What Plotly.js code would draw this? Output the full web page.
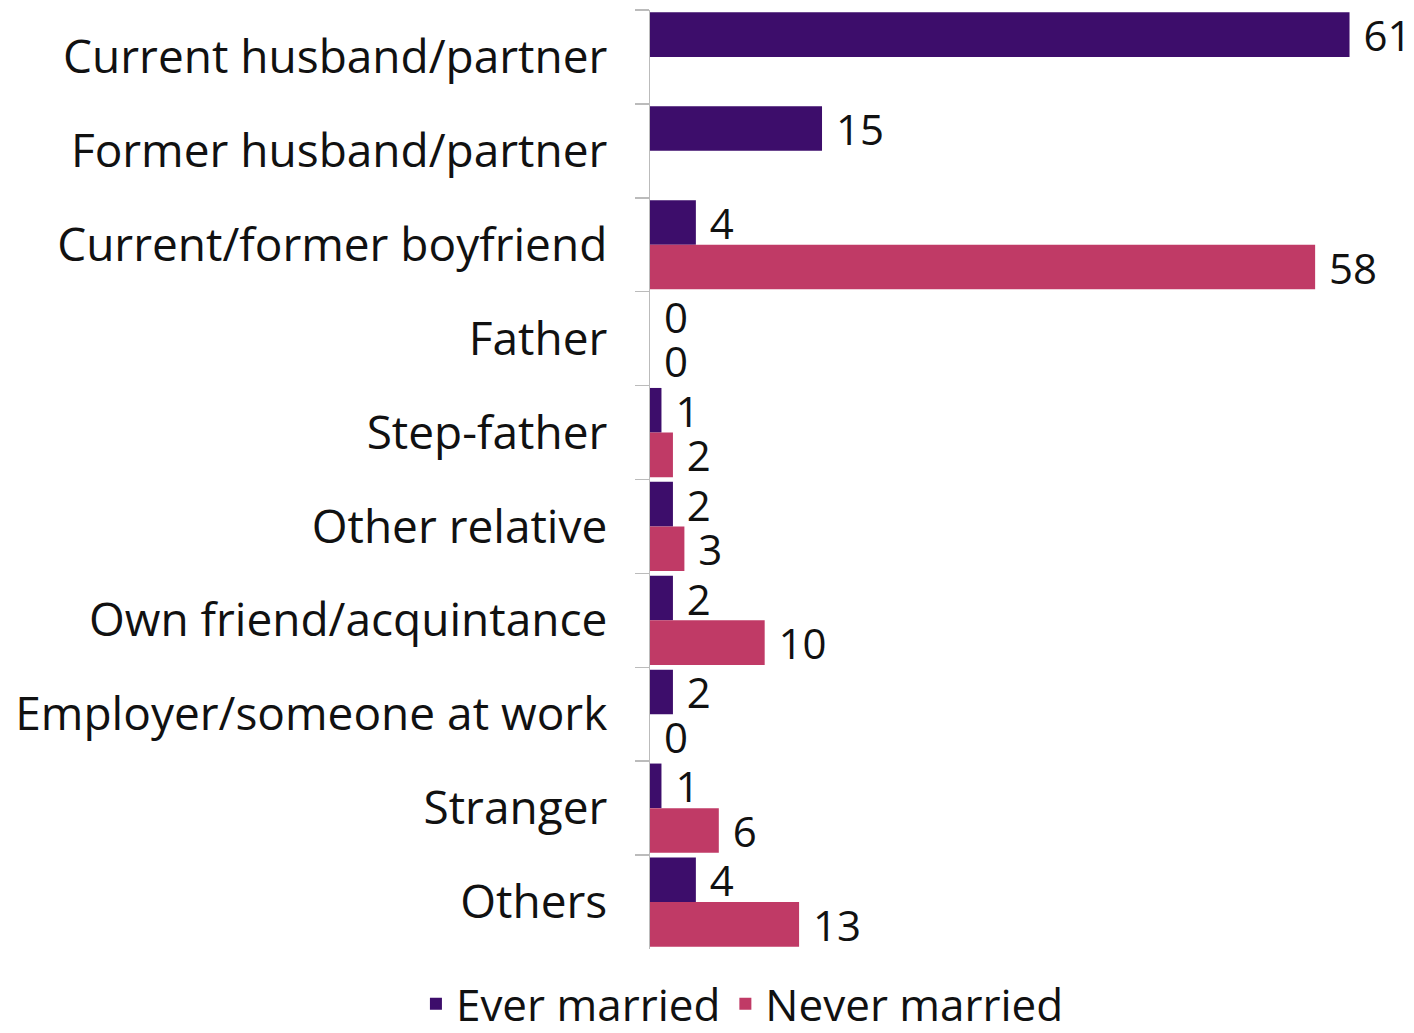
<!DOCTYPE html>
<html><head><meta charset="utf-8">
<script src="https://cdn.plot.ly/plotly-3.0.1.min.js"></script>
<style>html,body{margin:0;padding:0;background:#fff}#chart{width:1414px;height:1033px}</style>
</head><body><div id="chart"></div>
<script>
const categories = ["Current husband/partner","Former husband/partner","Current/former boyfriend","Father","Step-father","Other relative","Own friend/acquintance","Employer/someone at work","Stranger","Others"];
const everMarried = [61,15,4,0,1,2,2,2,1,4];
const neverMarried = [null,null,58,0,2,3,10,0,6,13];
const seriesNames = ["Ever married","Never married"];

const FONT = "Open Sans, DejaVu Sans, sans-serif";
const FS = 46;
const VS = 42;
const lbl = v => v === null ? "" : "\u00a0" + String(v);
const traces = [
  {type:"bar", orientation:"h", name:seriesNames[0], y:categories, x:everMarried,
   marker:{color:"#3d0d6b"}, text:everMarried.map(lbl), constraintext:"none",
   textposition:"outside", cliponaxis:false, textfont:{size:VS,color:"#111",family:FONT}},
  {type:"bar", orientation:"h", name:seriesNames[1], y:categories, x:neverMarried,
   marker:{color:"#c03a66"}, text:neverMarried.map(lbl), constraintext:"none",
   textposition:"outside", cliponaxis:false, textfont:{size:VS,color:"#111",family:FONT}}
];
const layout = {
  width:1414, height:1033,
  margin:{l:650, r:53, t:10, b:84, autoexpand:false},
  barmode:"group", bargap:0.05, bargroupgap:0,
  font:{family:FONT, size:FS, color:"#111"},
  showlegend:true,
  legend:{orientation:"h", x:0.13, xanchor:"center", y:-0.021, yanchor:"top",
          font:{size:44,family:FONT,color:"#111"}, tracegroupgap:0},
  xaxis:{range:[0,62], visible:false, fixedrange:true},
  yaxis:{autorange:"reversed", type:"category", showline:true, linecolor:"#bbb", linewidth:1.5,
         ticks:"outside", tickson:"boundaries", ticklen:14, tickcolor:"#bbb", tickwidth:1.5,
         ticklabelstandoff:32, tickfont:{size:FS,family:FONT,color:"#111"}, showgrid:false, zeroline:false},
  plot_bgcolor:"#fff", paper_bgcolor:"#fff"
};
Plotly.newPlot("chart", traces, layout, {displayModeBar:false, staticPlot:true});
</script></body></html>
